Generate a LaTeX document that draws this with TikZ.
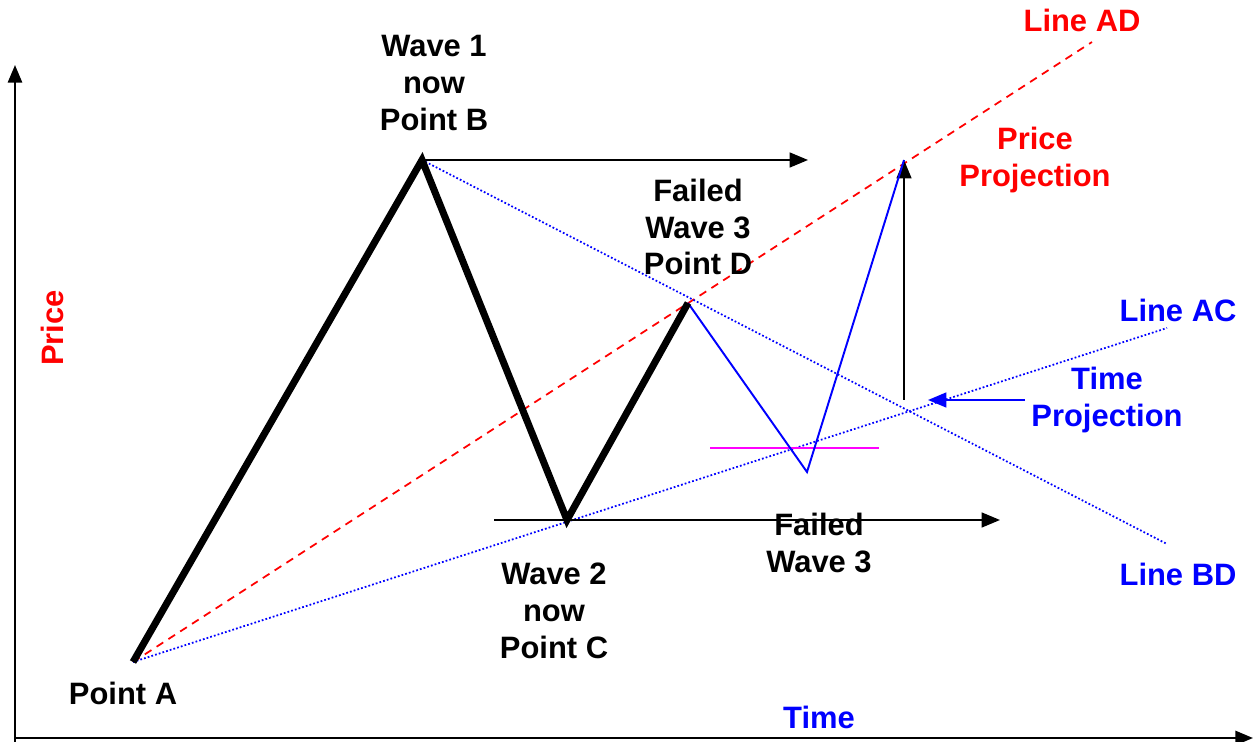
\documentclass[tikz,border=0pt]{standalone}
\usepackage{fontspec}
\setmainfont{Liberation Sans}
\usetikzlibrary{arrows.meta}
\definecolor{mag}{RGB}{255,0,255}
\tikzset{
  lbl/.style={font=\bfseries\fontsize{17.6}{21}\selectfont, inner sep=0pt, align=center},
  wave/.style={line width=4pt, line join=miter, line cap=butt},
  thin/.style={line width=1.1pt},
  arr/.style={thin, -{Triangle[length=10.5pt,width=8.5pt]}},
  bdot/.style={blue, line width=1pt, dash pattern=on 1pt off 1.2pt},
  rdash/.style={red, line width=1pt, dash pattern=on 4.5pt off 3.5pt},
}
\begin{document}
\begin{tikzpicture}[x=0.02cm, y=-0.02cm]
\useasboundingbox (0,0) rectangle (1253,742);
% axes
\coordinate (O) at (15,738);
\coordinate (Ytop) at (15,65);
\coordinate (Xend) at (1253,738);
\draw[line width=1.4pt, -{Triangle[length=10pt,width=8pt]}] (15,742) -- (Ytop);
\draw[line width=1.4pt, -{Triangle[length=10pt,width=8pt]}] (O) -- (Xend);
% key points
\coordinate (A) at (133,662);
\coordinate (B) at (422,160);
\coordinate (C) at (567,520);
\coordinate (D) at (688,303);
\coordinate (E) at (807,472);
\coordinate (F) at (904,160);
\coordinate (ADend) at (1092,42);
\coordinate (ACend) at (1167,328);
\coordinate (BDend) at (1167,544);
% trend lines
\draw[rdash] (A) -- (ADend);
\draw[bdot] (A) -- (ACend);
\draw[bdot] (B) -- (BDend);
% magenta level
\coordinate (M1) at (710,448);
\coordinate (M2) at (879,448);
\draw[mag, line width=1.2pt] (M1) -- (M2);
% horizontal arrows
\coordinate (Bh) at (808,160);
\coordinate (Cs) at (494,520);
\coordinate (Ch) at (1000,520);
\draw[arr] (B) -- (Bh);
\draw[arr] (Cs) -- (Ch);
% vertical price projection
\coordinate (Vb) at (904,400);
\draw[arr] (Vb) -- (F);
% time projection arrow
\coordinate (Ts) at (1025,400);
\coordinate (Te) at (928,400);
\draw[arr, blue] (Ts) -- (Te);
% blue zigzag
\draw[blue, line width=1.1pt, line join=miter] (D) -- (E) -- (F);
% waves
\draw[wave] (A) -- (B) -- (C) -- (D);
% labels
\node[lbl] (lB) at (434,83) {Wave 1\\now\\Point B};
\node[lbl] (lD) at (698,227) {Failed\\Wave 3\\Point D};
\node[lbl] (lF) at (819,543) {Failed\\Wave 3};
\node[lbl] (lC) at (554,611) {Wave 2\\now\\Point C};
\node[lbl] (lA) at (123,693) {Point A};
\node[lbl, red] (lAD) at (1082,20) {Line AD};
\node[lbl, red] (lPP) at (1035,160) {Price\\Projection};
\node[lbl, blue] (lAC) at (1178,310) {Line AC};
\node[lbl, blue] (lTP) at (1107,400) {Time\\Projection};
\node[lbl, blue] (lBD) at (1178,574) {Line BD};
\node[lbl, blue] (lT) at (819,717) {Time};
\node[lbl, red, rotate=90] (lP) at (52,328) {Price};
\end{tikzpicture}
\end{document}
